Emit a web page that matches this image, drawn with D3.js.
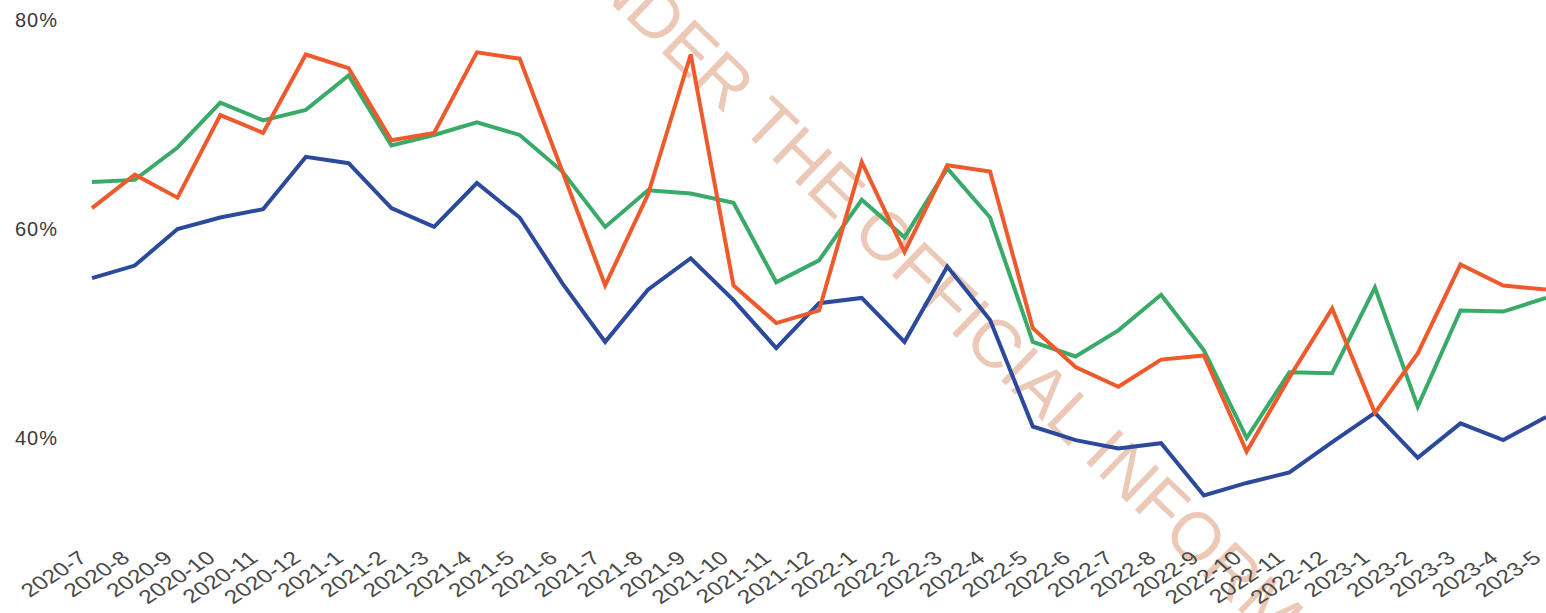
<!DOCTYPE html>
<html>
<head>
<meta charset="utf-8">
<script src="https://cdn.jsdelivr.net/npm/d3@7"></script>
<style>
  html, body { margin: 0; padding: 0; background: #ffffff; }
  svg { display: block; }
</style>
</head>
<body>
<svg id="chart" width="1546" height="613"></svg>
<script>
// Monthly categories, 2020-7 through 2023-5
const months = [
  "2020-7","2020-8","2020-9","2020-10","2020-11","2020-12",
  "2021-1","2021-2","2021-3","2021-4","2021-5","2021-6","2021-7","2021-8","2021-9","2021-10","2021-11","2021-12",
  "2022-1","2022-2","2022-3","2022-4","2022-5","2022-6","2022-7","2022-8","2022-9","2022-10","2022-11","2022-12",
  "2023-1","2023-2","2023-3","2023-4","2023-5"
];

// Series values (percent)
const blueSeries = [
  55.3, 56.5, 60.0, 61.1, 61.9, 66.9,
  66.3, 62.0, 60.2, 64.4, 61.1, 54.8, 49.2, 54.2, 57.2, 53.2, 48.6, 52.9,
  53.4, 49.2, 56.4, 51.3, 41.1, 39.8, 39.0, 39.5, 34.5, 35.7, 36.7, 39.6,
  42.4, 38.1, 41.4, 39.8, 42.0
];
const greenSeries = [
  64.5, 64.7, 67.8, 72.1, 70.4, 71.4,
  74.7, 68.0, 69.0, 70.2, 69.0, 65.5, 60.2, 63.7, 63.4, 62.5, 54.9, 57.0,
  62.8, 59.2, 65.8, 61.1, 49.2, 47.8, 50.3, 53.7, 48.4, 40.0, 46.3, 46.2,
  54.4, 43.0, 52.2, 52.1, 53.4
];
const orangeSeries = [
  62.0, 65.2, 63.0, 70.9, 69.2, 76.7,
  75.4, 68.5, 69.2, 76.9, 76.3, 65.5, 54.6, 63.3, 76.7, 54.6, 51.0, 52.2,
  66.4, 57.8, 66.1, 65.5, 50.5, 46.8, 44.9, 47.5, 47.9, 38.7, 45.8, 52.4,
  42.4, 48.1, 56.6, 54.6, 54.2
];

// Y-axis ticks (percent)
const yTicks = [40, 60, 80];

const watermarkText = "UNDER THE OFFICIAL INFORMATION ACT";

const svg = d3.select("#chart");

const x = d3.scalePoint().domain(months).range([92, 1546]);
const y = d3.scaleLinear().domain([40, 80]).range([438, 20]);

// Diagonal watermark, underneath the series
svg.append("text")
  .attr("transform", "translate(552,-53) rotate(44)")
  .attr("fill", "#ecc8b6")
  .style("font-family", "'Liberation Sans', Arial, sans-serif")
  .style("font-size", "68px")
  .text(watermarkText);

// Y axis labels only
const yAxis = svg.append("g")
  .attr("transform", "translate(58,0)")
  .call(d3.axisLeft(y).tickValues(yTicks).tickSize(0).tickPadding(0).tickFormat(d => d + "%"));
yAxis.select(".domain").remove();
yAxis.selectAll("text")
  .attr("fill", "#3a3a3a")
  .style("font-family", "'Liberation Sans', Arial, sans-serif")
  .style("font-size", "20px")
  .style("letter-spacing", "1px");

// X axis with rotated month labels
const xAxis = svg.append("g")
  .attr("transform", "translate(0,558)")
  .call(d3.axisBottom(x).tickSize(0).tickPadding(0));
xAxis.select(".domain").remove();
xAxis.selectAll("text")
  .attr("fill", "#4a4a4a")
  .attr("text-anchor", "end")
  .attr("dy", "0")
  .attr("y", 0)
  .attr("transform", "translate(-4,2) scale(1.3,1) rotate(-40)")
  .style("font-family", "'Liberation Sans', Arial, sans-serif")
  .style("font-size", "19px");

// Series lines
const series = [
  { values: blueSeries,   color: "#2c4a9b" },
  { values: greenSeries,  color: "#3aaa68" },
  { values: orangeSeries, color: "#ee5a2c" }
];

const line = d3.line()
  .x((d, i) => x(months[i]))
  .y(d => y(d));

svg.append("g")
  .selectAll("path")
  .data(series)
  .join("path")
  .attr("d", s => line(s.values))
  .attr("fill", "none")
  .attr("stroke", s => s.color)
  .attr("stroke-width", 4)
  .attr("stroke-linejoin", "miter")
  .attr("stroke-linecap", "butt");
</script>
</body>
</html>
